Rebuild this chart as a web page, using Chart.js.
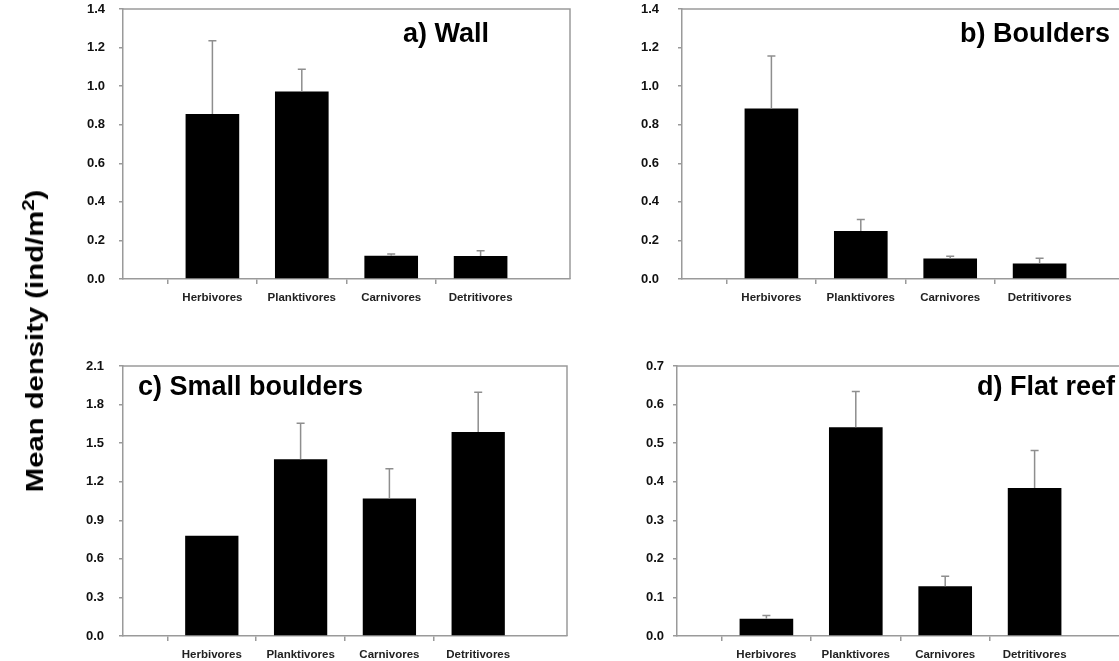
<!DOCTYPE html>
<html>
<head>
<meta charset="utf-8">
<script src="https://cdn.jsdelivr.net/npm/chart.js@4.4.1/dist/chart.umd.min.js"></script>
<style>
  html, body { margin: 0; padding: 0; background: #fff; width: 1119px; height: 661px; overflow: hidden; position: relative; }
  canvas { position: absolute; }
  #ytitle {
    position: absolute; left: 35px; top: 341px;
    transform: translate(-50%, -50%) rotate(-90deg) scaleX(1.22);
    font: bold 24px "Liberation Sans", Arial, sans-serif;
    white-space: nowrap; color: #000;
  }
  #ytitle sup { font-size: 0.7em; vertical-align: 0.55em; line-height: 0; }
</style>
</head>
<body>
<canvas id="cWall" width="580" height="320" style="left:0;top:0"></canvas>
<canvas id="cBoulders" width="580" height="320" style="left:559px;top:0"></canvas>
<canvas id="cSmall" width="580" height="331" style="left:0;top:330px"></canvas>
<canvas id="cFlat" width="580" height="331" style="left:554px;top:330px"></canvas>
<div id="ytitle">Mean density (ind/m<sup>2</sup>)</div>

<script>
// Trophic groups shown on every panel
const categories = ['Herbivores', 'Planktivores', 'Carnivores', 'Detritivores'];

// Mean density (ind/m2) and standard error per habitat
const wallMean = [0.855, 0.972, 0.121, 0.119];
const wallSE   = [0.380, 0.116, 0.009, 0.028];

const bouldersMean = [0.884, 0.249, 0.106, 0.080];
const bouldersSE   = [0.272, 0.059, 0.012, 0.027];

const smallMean = [0.780, 1.375, 1.070, 1.587];
const smallSE   = [0.000, 0.280, 0.230, 0.308];

const flatMean = [0.045, 0.541, 0.129, 0.384];
const flatSE   = [0.008, 0.093, 0.026, 0.097];

// Axis ranges
const wallTicks     = { max: 1.4, step: 0.2 };
const bouldersTicks = { max: 1.4, step: 0.2 };
const smallTicks    = { max: 2.1, step: 0.3 };
const flatTicks     = { max: 0.7, step: 0.1 };

const FONT = '"Liberation Sans", Arial, Helvetica, sans-serif';
const AXIS = '#9a9a9a';
const ERR = '#8e8e8e';

// Top and right sides of the plot box
const framePlugin = {
  id: 'frame',
  beforeDatasetsDraw(chart) {
    const { ctx, chartArea: a } = chart;
    ctx.save();
    ctx.strokeStyle = AXIS;
    ctx.lineWidth = 1.5;
    ctx.beginPath();
    ctx.moveTo(a.left, a.top);
    ctx.lineTo(a.right, a.top);
    ctx.lineTo(a.right, a.bottom);
    ctx.stroke();
    ctx.restore();
  }
};

// Upper error whiskers from each dataset's "errors" array
const errorBarPlugin = {
  id: 'errorBars',
  afterDatasetsDraw(chart) {
    const { ctx } = chart;
    const yScale = chart.scales.y;
    chart.data.datasets.forEach((ds, di) => {
      const meta = chart.getDatasetMeta(di);
      ctx.save();
      ctx.strokeStyle = ERR;
      ctx.lineWidth = 1.5;
      meta.data.forEach((bar, i) => {
        const v = ds.data[i];
        const e = ds.errors[i];
        if (v == null || !e) return;
        const yt = yScale.getPixelForValue(v + e);
        ctx.beginPath();
        ctx.moveTo(bar.x, bar.y);
        ctx.lineTo(bar.x, yt);
        ctx.moveTo(bar.x - 4, yt);
        ctx.lineTo(bar.x + 4, yt);
        ctx.stroke();
      });
      ctx.restore();
    });
  }
};

// Panel letter and habitat name inside the plot box
const panelTitlePlugin = {
  id: 'panelTitle',
  afterDraw(chart, args, opts) {
    const { ctx, chartArea: a } = chart;
    ctx.save();
    ctx.font = 'bold 27px ' + FONT;
    ctx.fillStyle = '#000';
    ctx.textBaseline = 'alphabetic';
    ctx.textAlign = opts.align;
    ctx.fillText(opts.text, a.left + opts.dx, a.top + opts.dy);
    ctx.restore();
  }
};

function makePanel(id, title, means, errs, range, layout) {
  const labels = ['', ...categories, ''];
  new Chart(document.getElementById(id), {
    type: 'bar',
    data: {
      labels: labels,
      datasets: [{
        data: [null, ...means, null],
        errors: [0, ...errs, 0],
        backgroundColor: '#000',
        borderWidth: 0,
        barPercentage: 0.6,
        categoryPercentage: 1.0
      }]
    },
    options: {
      responsive: false,
      animation: false,
      layout: { padding: { top: layout.padTop, right: layout.padRight, bottom: 0, left: 0 } },
      plugins: {
        legend: { display: false },
        tooltip: { enabled: false },
        panelTitle: title
      },
      scales: {
        x: {
          type: 'category',
          offset: false,
          grid: {
            drawOnChartArea: false,
            tickLength: 5,
            lineWidth: 1.5,
            tickColor: (c) => (c.tick && c.tick.label) ? AXIS : 'rgba(0,0,0,0)'
          },
          border: { color: AXIS, width: 1.5 },
          ticks: {
            autoSkip: false, maxRotation: 0, padding: 7,
            color: '#222',
            font: { family: FONT, size: 11.5, weight: 'bold' }
          },
          afterFit(s) { s.height = layout.xH; s.paddingLeft = 0; s.paddingRight = 0; }
        },
        y: {
          min: 0, max: range.max,
          grid: { drawOnChartArea: false, tickLength: 4, lineWidth: 1.5, color: AXIS },
          border: { color: AXIS, width: 1.5 },
          ticks: {
            stepSize: range.step,
            padding: layout.yPad,
            color: '#111',
            font: { family: FONT, size: 13, weight: 'bold' },
            callback: (v) => Number(v).toFixed(1)
          },
          afterFit(s) { s.width = layout.yW; s.paddingTop = 0; s.paddingBottom = 0; }
        }
      }
    },
    plugins: [framePlugin, errorBarPlugin, panelTitlePlugin]
  });
}

makePanel('cWall', { text: 'a) Wall', align: 'right', dx: 366, dy: 33 },
  wallMean, wallSE, wallTicks, { padTop: 9, padRight: 10, xH: 41, yW: 123, yPad: 14 });

makePanel('cBoulders', { text: 'b) Boulders', align: 'right', dx: 428, dy: 33 },
  bouldersMean, bouldersSE, bouldersTicks, { padTop: 9, padRight: 10, xH: 41, yW: 123, yPad: 19 });

makePanel('cSmall', { text: 'c) Small boulders', align: 'left', dx: 15, dy: 29 },
  smallMean, smallSE, smallTicks, { padTop: 36, padRight: 13, xH: 25, yW: 123, yPad: 15 });

makePanel('cFlat', { text: 'd) Flat reef', align: 'right', dx: 438, dy: 29 },
  flatMean, flatSE, flatTicks, { padTop: 36, padRight: 10, xH: 25, yW: 123, yPad: 9 });
</script>
</body>
</html>
